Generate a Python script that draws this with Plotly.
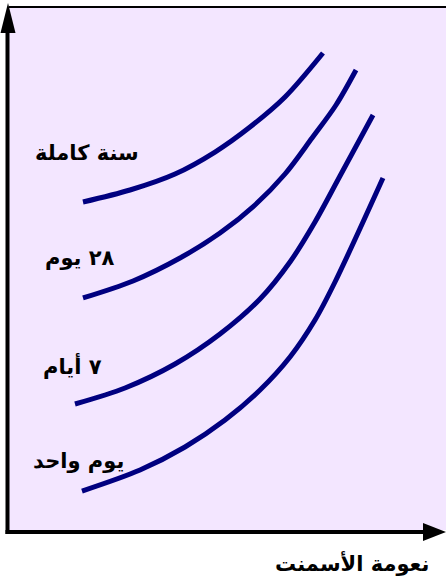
import plotly.graph_objects as go

# Cement strength vs. fineness, one curve per curing age
ages = ["سنة كاملة", "٢٨ يوم", "٧ أيام", "يوم واحد"]

fineness_year = [16.93, 27.69, 37.99, 47.14, 55.15, 63.16, 71.85]
strength_year = [62.74, 65.02, 68.06, 72.24, 76.99, 82.70, 91.06]

fineness_28d = [16.93, 28.38, 39.13, 48.28, 56.29, 63.16, 69.34, 74.83, 79.41]
strength_28d = [44.49, 47.72, 52.09, 56.84, 62.17, 68.06, 74.90, 81.18, 87.83]

fineness_7d = [15.10, 26.55, 37.99, 48.28, 57.44, 64.30, 70.02, 75.74, 83.30]
strength_7d = [24.33, 27.38, 31.94, 37.64, 44.30, 51.33, 58.94, 67.68, 79.28]

fineness_1d = [16.70, 29.98, 40.27, 49.43, 57.44, 64.30, 70.02, 74.60, 85.58]
strength_1d = [7.79, 11.79, 16.16, 21.29, 26.99, 33.27, 40.30, 47.53, 67.30]

# label anchor (fineness, strength) for each age
label_x = [17.85, 16.25, 14.42, 15.79]
label_y = [72.05, 52.09, 31.56, 13.50]

x_title = "نعومة الأسمنت"

W, H = 446, 579
ML, MR, MT, MB = 9, 0, 8, 49
PW, PH = W - ML - MR, H - MT - MB

def px(x):
    return (x - ML) / PW

def py(y):
    return (H - MB - y) / PH

LINE = "#000080"
BG = "#F3E6FF"
FONT = "DejaVu Sans"

fig = go.Figure()
series = [
    (fineness_year, strength_year),
    (fineness_28d, strength_28d),
    (fineness_7d, strength_7d),
    (fineness_1d, strength_1d),
]
for name, (xs, ys) in zip(ages, series):
    fig.add_trace(go.Scatter(
        x=xs, y=ys, mode="lines", name=name,
        line=dict(color=LINE, width=5, shape="spline", smoothing=0.9),
        hoverinfo="skip", showlegend=False,
    ))

for name, lx, ly in zip(ages, label_x, label_y):
    fig.add_annotation(
        x=lx, y=ly, xref="x", yref="y", text=name, showarrow=False,
        font=dict(family=FONT, size=21, color="black", weight="bold"),
        xanchor="center", yanchor="middle",
    )

fig.add_annotation(
    x=px(352), y=py(563), xref="paper", yref="paper", text=x_title,
    showarrow=False,
    font=dict(family=FONT, size=21, color="black", weight="bold"),
    xanchor="center", yanchor="middle",
)

shapes = [
    # top border
    dict(type="line", xref="paper", yref="paper",
         x0=px(9), x1=px(446), y0=py(7), y1=py(7),
         line=dict(color="black", width=2)),
    # vertical axis
    dict(type="line", xref="paper", yref="paper",
         x0=px(7.5), x1=px(7.5), y0=py(534), y1=py(28),
         line=dict(color="black", width=4)),
    # horizontal axis
    dict(type="line", xref="paper", yref="paper",
         x0=px(5.5), x1=px(426), y0=py(532), y1=py(532),
         line=dict(color="black", width=4)),
    # arrowheads
    dict(type="path", xref="paper", yref="paper",
         path=f"M {px(0.5)},{py(33)} L {px(15.5)},{py(33)} L {px(8)},{py(3)} Z",
         fillcolor="black", line=dict(color="black", width=0)),
    dict(type="path", xref="paper", yref="paper",
         path=f"M {px(423)},{py(523)} L {px(423)},{py(541)} L {px(446)},{py(532)} Z",
         fillcolor="black", line=dict(color="black", width=0)),
]

fig.update_layout(
    width=W, height=H,
    margin=dict(l=ML, r=MR, t=MT, b=MB, pad=0),
    paper_bgcolor="white",
    plot_bgcolor=BG,
    shapes=shapes,
    xaxis=dict(range=[0, 100], visible=False, fixedrange=True),
    yaxis=dict(range=[(532 - (H - MB)) / 5.26, (532 - MT) / 5.26],
               visible=False, fixedrange=True),
)

fig.write_html("out.html", config={"displayModeBar": False})
